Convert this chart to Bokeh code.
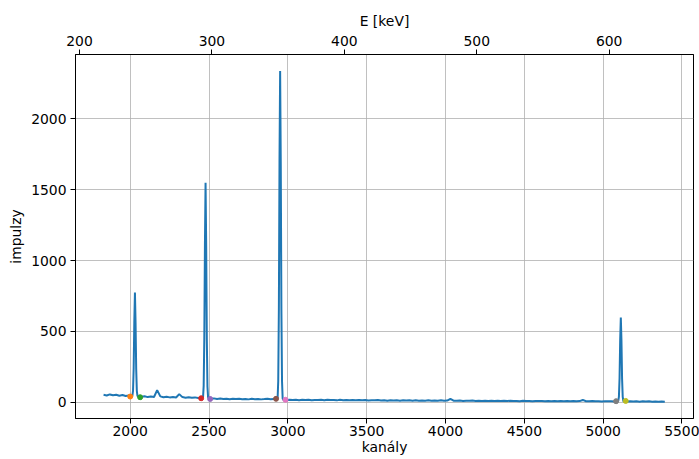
import numpy as np
from bokeh.plotting import figure
from bokeh.models import Range1d, LinearAxis, FixedTicker
from bokeh.embed import file_html
from bokeh.resources import INLINE

# --- spectrum: background continuum sampled every 20 channels from channel 1831 ---
bg_start = 1831
bg_step = 20
bg_counts = [
    52, 47, 55, 49, 53, 46, 51, 44, 48, 43,   # 1831..2011
    42, 40, 38, 42, 36, 40, 37, 85, 41, 35,   # 2031..2211
    39, 34, 37, 33, 57, 36, 32, 35, 31, 34,   # 2231..2411
    30, 31, 30, 28, 24, 27, 23, 26, 22, 25,   # 2431..2611
    21, 24, 22, 25, 21, 23, 20, 24, 21, 23,   # 2631..2811
    20, 22, 25, 21, 23, 22, 20, 16, 15, 18,   # 2831..3011
    15, 17, 14, 17, 15, 18, 14, 16, 15, 17,   # 3031..3211
    14, 18, 15, 16, 13, 17, 14, 16, 13, 15,   # 3231..3411
    14, 16, 13, 15, 12, 14, 13, 15, 12, 14,   # 3431..3611
    11, 14, 12, 13, 11, 14, 12, 13, 11, 13,   # 3631..3811
    10, 12, 11, 13, 10, 12, 11, 13, 10, 12,   # 3831..4011
    24, 11, 10, 12, 9, 11, 10, 12, 9, 11,     # 4031..4211
    9, 10, 8, 11, 9, 10, 8, 10, 9, 10,        # 4231..4411
    8, 9, 7, 10, 8, 9, 7, 9, 8, 9,            # 4431..4611
    7, 8, 7, 9, 6, 8, 7, 8, 6, 8,             # 4631..4811
    7, 8, 16, 7, 6, 8, 6, 7, 5, 7,            # 4831..5011
    6, 7, 5, 6, 6, 6, 5, 7, 5, 6,             # 5031..5211
    4, 6, 5, 6, 4, 5, 4, 5, 4,                # 5231..5391
]

# --- photopeaks, sampled every 4 channels ---
peak1_chan = [2014, 2018, 2022, 2026, 2030, 2034, 2038, 2042, 2046]
peak1_counts = [46, 82, 240, 565, 775, 560, 235, 80, 44]
peak2_chan = [2462, 2466, 2470, 2474, 2478, 2482, 2486, 2490, 2494]
peak2_counts = [34, 115, 450, 1110, 1548, 1100, 440, 110, 33]
peak3_chan = [2935, 2939, 2943, 2947, 2951, 2955, 2959, 2963, 2967]
peak3_counts = [28, 150, 660, 1700, 2337, 1690, 650, 148, 26]
peak4_chan = [5096, 5100, 5104, 5108, 5112, 5116, 5120, 5124, 5128]
peak4_counts = [9, 40, 170, 440, 598, 435, 165, 38, 8]

# --- fit-region boundaries marked on the spectrum ---
edge_chan = [2000, 2063, 2450, 2507, 2925, 2985, 5082, 5143]
edge_counts = [40, 35, 28, 23, 24, 17, 7, 9]
edge_colors = ["#ff7f0e", "#2ca02c", "#d62728", "#9467bd",
               "#8c564b", "#e377c2", "#7f7f7f", "#bcbd22"]

# --- energy calibration E = a * channel + b ---
cal_a = 0.11905
cal_b = 0.2

x_ticks = [2000, 2500, 3000, 3500, 4000, 4500, 5000, 5500]
y_ticks = [0, 500, 1000, 1500, 2000]
e_ticks = [200, 300, 400, 500, 600]

# merge continuum and peaks into one sorted spectrum
bg_chan = bg_start + bg_step * np.arange(len(bg_counts))
bg_vals = np.array(bg_counts, dtype=float)
peaks = [(peak1_chan, peak1_counts), (peak2_chan, peak2_counts),
         (peak3_chan, peak3_counts), (peak4_chan, peak4_counts)]
keep = np.ones(len(bg_chan), dtype=bool)
for pc, _ in peaks:
    keep &= ~((bg_chan >= pc[0] - 2) & (bg_chan <= pc[-1] + 2))
chan = np.concatenate([bg_chan[keep]] + [np.array(pc) for pc, _ in peaks])
counts = np.concatenate([bg_vals[keep]] + [np.array(pv, dtype=float) for _, pv in peaks])
order = np.argsort(chan)
chan, counts = chan[order], counts[order]

x_lo, x_hi = 1653, 5573
FONT = "DejaVu Sans"
FS = "13.9px"

p = figure(width=699, height=459, output_backend="svg", toolbar_location=None,
           x_range=Range1d(x_lo, x_hi), y_range=Range1d(-115, 2454),
           x_axis_label="kanály", y_axis_label="impulzy",
           min_border_left=75, min_border_right=6,
           min_border_top=54, min_border_bottom=41)
p.background_fill_color = "white"
p.border_fill_color = "white"
p.outline_line_color = "black"
p.outline_line_width = 1
p.outline_line_alpha = 1

bottom = p.below[0]
left = p.left[0]

p.extra_x_ranges = {"energy": Range1d(cal_a * x_lo + cal_b, cal_a * x_hi + cal_b)}
top = LinearAxis(x_range_name="energy", axis_label="E [keV]")
p.add_layout(top, "above")

bottom.ticker = FixedTicker(ticks=x_ticks)
left.ticker = FixedTicker(ticks=y_ticks)
top.ticker = FixedTicker(ticks=e_ticks)

for ax in [bottom, left, top]:
    ax.major_label_text_font = FONT
    ax.major_label_text_font_size = FS
    ax.major_label_text_color = "black"
    ax.axis_label_text_font = FONT
    ax.axis_label_text_font_size = FS
    ax.axis_label_text_font_style = "normal"
    ax.axis_label_text_color = "black"
    ax.axis_line_color = "black"
    ax.axis_line_width = 1
    ax.major_tick_line_color = "black"
    ax.major_tick_line_width = 1
    ax.major_tick_in = 0
    ax.major_tick_out = 5
    ax.minor_tick_line_color = None
    ax.major_label_standoff = 4
    ax.axis_label_standoff = 4

# the bottom axis sits close to the canvas edge
bottom.major_label_standoff = 2
bottom.axis_label_standoff = 0

p.xgrid.ticker = FixedTicker(ticks=x_ticks)
p.ygrid.ticker = FixedTicker(ticks=y_ticks)
for g in [p.xgrid, p.ygrid]:
    g.grid_line_color = "#b0b0b0"
    g.grid_line_width = 0.8

p.line(chan, counts, line_color="#1f77b4", line_width=2)
p.scatter(edge_chan, edge_counts, size=5, marker="circle",
          fill_color=edge_colors, line_color=edge_colors)

open("out.html", "w").write(file_html(p, INLINE))
